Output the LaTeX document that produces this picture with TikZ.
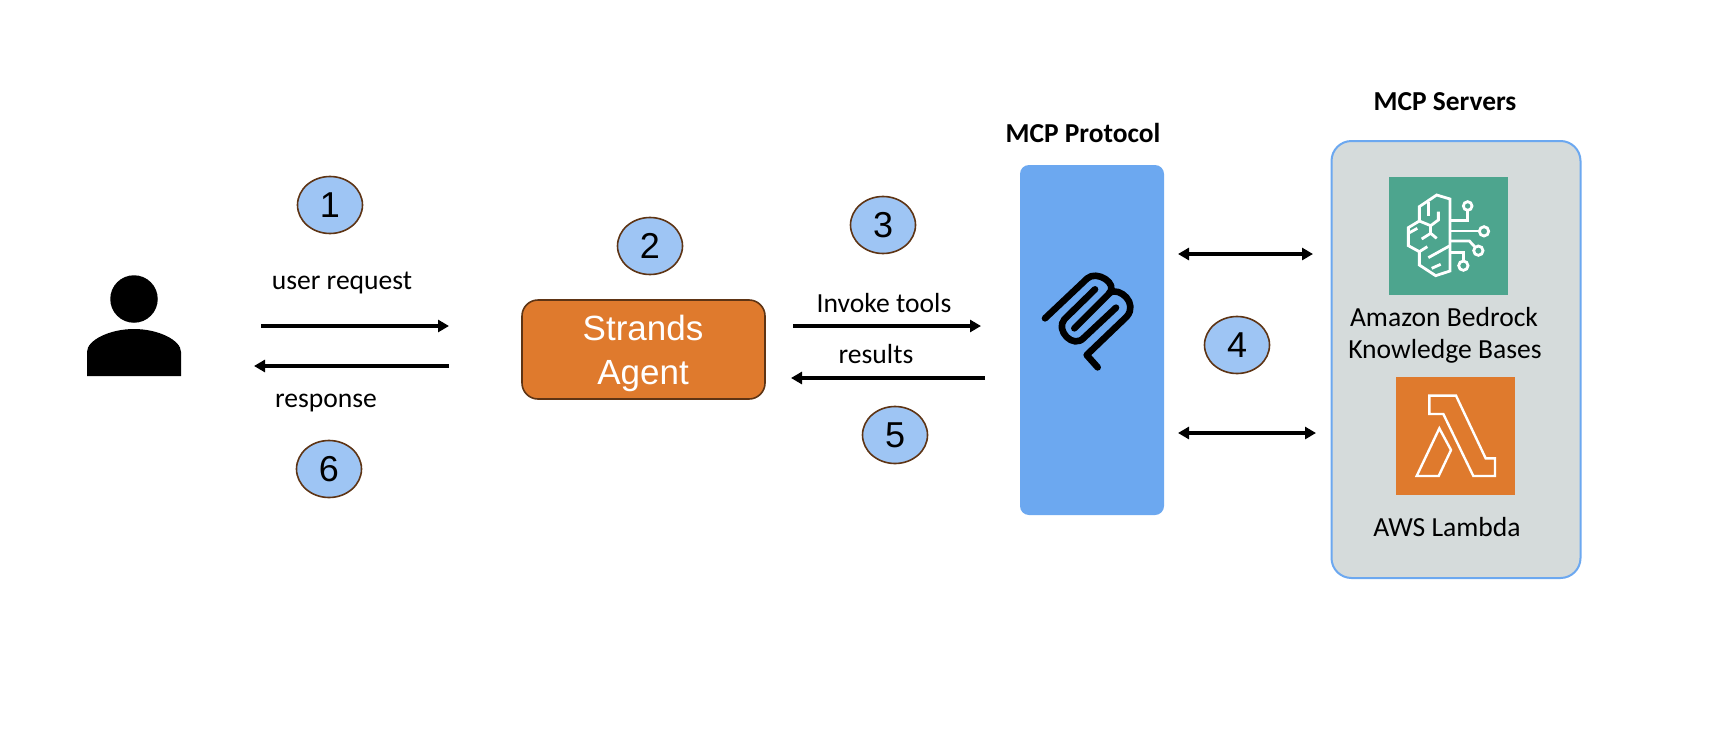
\documentclass[tikz,border=0pt]{standalone}
\usepackage{fontspec}
\setmainfont{Carlito}
\newfontfamily\arialf{Liberation Sans}
\usetikzlibrary{arrows.meta,shapes.geometric}
\definecolor{awsorange}{HTML}{DF7A2D}
\definecolor{edgebrown}{HTML}{5E3414}
\definecolor{mcpblue}{HTML}{6CA8F0}
\definecolor{badgeblue}{HTML}{9EC5F4}
\definecolor{servergrey}{HTML}{D5DBDB}
\definecolor{awsgreen}{HTML}{4DA58E}
\tikzset{
  badge/.style={ellipse,draw=edgebrown,line width=1.6pt,fill=badgeblue,minimum width=65pt,minimum height=57pt,inner sep=0pt,font=\arialf\fontsize{36}{40}\selectfont},
  flow/.style={line width=3.3pt,-{Triangle[length=11pt,width=12pt]}},
  biflow/.style={line width=3.3pt,{Triangle[length=11pt,width=12pt]}-{Triangle[length=11pt,width=12pt]}},
  lab/.style={anchor=base,inner sep=0pt,font=\fontsize{27.6}{32}\selectfont},
  head/.style={anchor=base,inner sep=0pt,font=\bfseries\fontsize{27.4}{32}\selectfont},
  iconline/.style={draw=white,line width=2.8pt,line join=miter,fill=none},
  mcpline/.style={draw=black,line width=6.6pt,line cap=round,line join=round},
}
\begin{document}
\begin{tikzpicture}[x=1pt,y=-1pt]
\useasboundingbox (0,0) rectangle (1726,744);
\fill[white] (0,0) rectangle (1726,744);

% user
\node[circle,fill=black,minimum size=47.5pt,inner sep=0pt] (userhead) at (134,299) {};
\fill[black] (87,376) -- (87,352) .. controls (87,340) and (110,329) .. (134,329)
  .. controls (158,329) and (181,340) .. (181,352) -- (181,376) -- cycle;

% boxes
\node[draw=edgebrown,line width=1.6pt,fill=awsorange,rounded corners=16pt,minimum width=243pt,minimum height=99pt,inner sep=0pt,text=white] (agent) at (643.5,349.5) {};
\node[anchor=base,inner sep=0pt,text=white,font=\arialf\fontsize{35}{44}\selectfont] (agent1) at (643,340) {Strands};
\node[anchor=base,inner sep=0pt,text=white,font=\arialf\fontsize{35}{44}\selectfont] (agent2) at (643,384) {Agent};
\node[fill=mcpblue,rounded corners=9pt,minimum width=144pt,minimum height=350pt,inner sep=0pt] (protocol) at (1092,340) {};
\node[draw=mcpblue,line width=2pt,fill=servergrey,rounded corners=20pt,minimum width=249pt,minimum height=437pt,inner sep=0pt] (servers) at (1456,359.5) {};
\node[fill=awsgreen,minimum width=119pt,minimum height=118pt,inner sep=0pt] (kb) at (1448.5,236) {};
\node[fill=awsorange,minimum width=119pt,minimum height=118pt,inner sep=0pt] (lambda) at (1455.5,436) {};

% headings and labels
\node[head] (h1) at (1083,142) {MCP Protocol};
\node[head] (h2) at (1445,110) {MCP Servers};
\node[lab] (kbt1) at (1444,326) {Amazon Bedrock};
\node[lab] (kbt2) at (1445,358) {Knowledge Bases};
\node[lab] (lamt) at (1447,536) {AWS Lambda};
\node[lab] (l1) at (342,289.5) {user request};
\node[lab] (l2) at (326,407.5) {response};
\node[lab] (l3) at (884,312) {Invoke tools};
\node[lab] (l4) at (876,363) {results};

% badges
\node[badge] (b1) at (330,205) {1};
\node[badge] (b2) at (650,246) {2};
\node[badge] (b3) at (883,225) {3};
\node[badge] (b4) at (1237,345) {4};
\node[badge] (b5) at (895,435) {5};
\node[badge] (b6) at (329,469) {6};

% connector ends
\coordinate (a1s) at (261,326); \coordinate (a1e) at (449,326);
\coordinate (a2s) at (449,366); \coordinate (a2e) at (254,366);
\coordinate (a3s) at (793,326); \coordinate (a3e) at (981,326);
\coordinate (a4s) at (985,378); \coordinate (a4e) at (791,378);
\coordinate (a5s) at (1178,254); \coordinate (a5e) at (1313,254);
\coordinate (a6s) at (1178,433); \coordinate (a6e) at (1316,433);
\draw[flow] (a1s) -- (a1e);
\draw[flow] (a2s) -- (a2e);
\draw[flow] (a3s) -- (a3e);
\draw[flow] (a4s) -- (a4e);
\draw[biflow] (a5s) -- (a5e);
\draw[biflow] (a6s) -- (a6e);

% MCP logo
\begin{scope}[shift={(1030,260)},x=0.33333pt,y=-0.33333pt]
\draw[mcpline] (45,175) -- (172,55) .. controls (200,30) and (265,70) .. (238,100) -- (133,205);
\draw[mcpline] (195,88) -- (103,178) .. controls (75,210) and (130,270) .. (163,232) -- (258,143);
\draw[mcpline] (238,98) .. controls (270,80) and (325,130) .. (290,170) -- (170,285) -- (203,322);
\end{scope}

% brain icon
\begin{scope}[shift={(1370,170)},x=0.33333pt,y=-0.33333pt]
\draw[iconline] (240,87) -- (200,75) -- (148,110) -- (148,153) -- (115,173) -- (115,227) -- (148,245) -- (148,285) -- (197,317) -- (240,303) -- cycle;
\draw[iconline] (176,95) -- (176,137);
\draw[iconline] (205,125) -- (205,150) -- (182,167) -- (148,153);
\draw[iconline] (182,167) -- (182,190);
\draw[iconline] (155,207) -- (182,190) -- (200,205);
\draw[iconline] (115,190) -- (142,175);
\draw[iconline] (148,245) -- (172,230);
\draw[iconline] (175,263) -- (240,227);
\draw[iconline] (185,295) -- (212,283);
\draw[iconline] (240,152) -- (292,152) -- (292,121);
\draw[iconline] (293,108) circle[radius=13];
\draw[iconline] (240,183) -- (328,183);
\draw[iconline] (342,184) circle[radius=14];
\draw[iconline] (240,213) -- (298,213) -- (314,230);
\draw[iconline] (325,242) circle[radius=14];
\draw[iconline] (240,247) -- (280,247) -- (280,273);
\draw[iconline] (280,287) circle[radius=14];
\end{scope}

% lambda icon
\begin{scope}[shift={(1300,360)},x=0.33333pt,y=-0.33333pt]
\draw[iconline,line width=2.4pt] (388,107) -- (468,107) -- (557,295) -- (585,295) -- (585,348) -- (520,348) -- (430,162) -- (388,162) -- cycle;
\draw[iconline,line width=2.4pt] (418,205) -- (453,270) -- (416,348) -- (350,348) -- cycle;
\end{scope}
\end{tikzpicture}
\end{document}
